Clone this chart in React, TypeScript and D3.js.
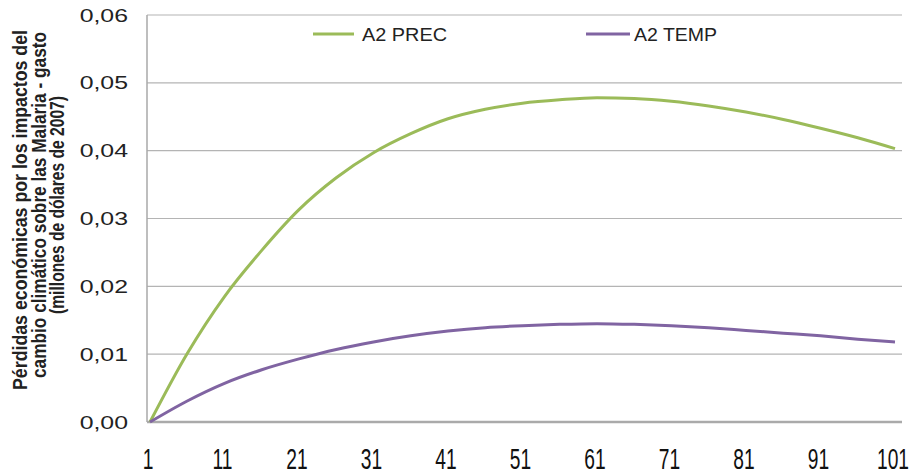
import React from "react";
import * as d3 from "d3";

const xValues = [1, 6, 11, 16, 21, 26, 31, 36, 41, 46, 51, 56, 61, 66, 71, 76, 81, 86, 91, 96, 101];
const precValues = [0, 0.0101, 0.0185, 0.0253, 0.0313, 0.036, 0.0397, 0.0425, 0.0447, 0.0461, 0.047, 0.0475, 0.0478, 0.0477, 0.0473, 0.0466, 0.0457, 0.0446, 0.0433, 0.0419, 0.0403];
const tempValues = [0, 0.0031, 0.0057, 0.0077, 0.0093, 0.0107, 0.0118, 0.0127, 0.0134, 0.0139, 0.0142, 0.0144, 0.0145, 0.0144, 0.0142, 0.0139, 0.0135, 0.0131, 0.0127, 0.0122, 0.0118];
const xTickLabels = [1, 11, 21, 31, 41, 51, 61, 71, 81, 91, 101];
const yTickValues = [0, 0.01, 0.02, 0.03, 0.04, 0.05, 0.06];
const seriesNames = ["A2 PREC", "A2 TEMP"];
const titleLines = [
  "Pérdidas económicas por los impactos del",
  "cambio climático sobre las Malaria - gasto",
  "(millones de dólares de 2007)",
];

const FONT = "'Liberation Sans', Arial, sans-serif";

export default function App() {
  const W = 915, H = 475;
  const left = 147, right = 902, top = 15, bottom = 422;
  const x = d3.scaleLinear().domain([1, 101]).range([150, 895]);
  const y = d3.scaleLinear().domain([0, 0.06]).range([bottom, top]);

  const line = d3
    .line<number>()
    .x((_, i) => x(xValues[i]))
    .y((d) => y(d))
    .curve(d3.curveMonotoneX);

  const fmt = (v: number) => v.toFixed(2).replace(".", ",");

  const titleX = [27, 45.5, 64];
  const titleCenter = [210, 205, 205];
  const titleLen = [360, 346, 218];

  return (
    <svg width={W} height={H} style={{ position: "absolute", left: 0, top: 0, background: "#fff" }}>
      <rect x={0} y={0} width={W} height={H} fill="#fff" />
      {/* gridlines */}
      {yTickValues.map((v) => (
        <line key={v} x1={left} x2={right} y1={y(v)} y2={y(v)} stroke={v === 0 ? "#aaa" : "#b4b4b4"} strokeWidth={v === 0 ? 2.5 : 1.2} />
      ))}
      <line x1={left} x2={left} y1={top} y2={bottom} stroke="#a8a8a8" strokeWidth={1.5} />

      {/* y tick labels */}
      {yTickValues.map((v) => (
        <text
          key={"yl" + v}
          transform={`translate(128,${y(v) + 6.5}) scale(1.38,1)`}
          textAnchor="end"
          fontFamily={FONT}
          fontSize={18}
          fill="#222"
        >
          {fmt(v)}
        </text>
      ))}

      {/* x tick labels */}
      {xTickLabels.map((v) => (
        <text
          key={"xl" + v}
          transform={`translate(${x(v) - 2},468.5) scale(0.64,1)`}
          textAnchor="middle"
          fontFamily={FONT}
          fontSize={30}
          fill="#111"
        >
          {v}
        </text>
      ))}

      {/* axis title */}
      {titleLines.map((t, i) => (
        <text
          key={"t" + i}
          transform={`translate(${titleX[i]},${titleCenter[i]}) scale(1.4,1) rotate(-90)`}
          textAnchor="middle"
          fontFamily={FONT}
          fontSize={14}
          fontWeight="bold"
          fill="#222"
          textLength={titleLen[i]}
          lengthAdjust="spacingAndGlyphs"
        >
          {t}
        </text>
      ))}

      {/* series */}
      <path d={line(precValues) || ""} fill="none" stroke="#9BBB59" strokeWidth={3} />
      <path d={line(tempValues) || ""} fill="none" stroke="#8064A2" strokeWidth={3} />

      {/* legend */}
      <line x1={313} x2={354} y1={34} y2={34} stroke="#9BBB59" strokeWidth={3} />
      <text x={362} y={41} fontFamily={FONT} fontSize={18} fill="#222" textLength={85} lengthAdjust="spacingAndGlyphs">
        {seriesNames[0]}
      </text>
      <line x1={586} x2={630} y1={34} y2={34} stroke="#8064A2" strokeWidth={3} />
      <text x={634} y={41} fontFamily={FONT} fontSize={18} fill="#222" textLength={83} lengthAdjust="spacingAndGlyphs">
        {seriesNames[1]}
      </text>
    </svg>
  );
}
